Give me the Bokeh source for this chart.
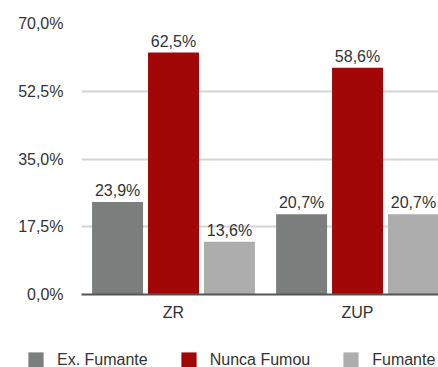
from bokeh.plotting import figure
from bokeh.models import ColumnDataSource, FixedTicker, Legend, LegendItem, Range1d
from bokeh.embed import file_html
from bokeh.resources import INLINE
from bokeh.core.properties import value

groups = ["ZR", "ZUP"]
series_names = ["Ex. Fumante", "Nunca Fumou", "Fumante"]
ex_fumante = [23.9, 20.7]
nunca_fumou = [62.5, 58.6]
fumante = [13.6, 20.7]
y_ticks = [0, 17.5, 35, 52.5, 70]
y_tick_labels = ["0,0%", "17,5%", "35,0%", "52,5%", "70,0%"]
colors = ["#7a7f7d", "#a10707", "#adadad"]

FONT = "Liberation Sans"
FS = "16px"
TXT = "#333333"

p = figure(width=438, height=340, output_backend="svg", toolbar_location=None,
           x_range=Range1d(0, 1.94), y_range=Range1d(0, 70),
           min_border_left=81, min_border_right=0, min_border_top=23, min_border_bottom=46)
p.outline_line_color = None
p.background_fill_color = "white"
p.border_fill_color = "white"

centers = [i + 0.5 for i in range(len(groups))]
offsets = [-0.304, 0.0, 0.304]
bar_w = 0.277

for vals, off, col in zip([ex_fumante, nunca_fumou, fumante], offsets, colors):
    src = ColumnDataSource(dict(
        x=[c + off for c in centers],
        top=vals,
        lab=[("%.1f%%" % v).replace(".", ",") for v in vals],
    ))
    p.vbar(x="x", top="top", bottom=0, width=bar_w, source=src,
           fill_color=col, line_color=None)
    p.text(x="x", y="top", text="lab", source=src, text_align="center",
           text_baseline="bottom", y_offset=-3, text_font=value(FONT),
           text_font_size=FS, text_color=TXT)

# axes
p.xaxis.ticker = FixedTicker(ticks=centers)
p.xaxis.major_label_overrides = {c: g for c, g in zip(centers, groups)}
p.xaxis.major_tick_line_color = None
p.xaxis.minor_tick_line_color = None
p.xaxis.major_tick_out = 0
p.xaxis.major_tick_in = 0
p.xaxis.axis_line_color = "#555555"
p.xaxis.axis_line_width = 2
p.xaxis.major_label_text_font = FONT
p.xaxis.major_label_text_font_size = FS
p.xaxis.major_label_text_color = TXT
p.xaxis.major_label_standoff = 9

p.yaxis.ticker = FixedTicker(ticks=y_ticks)
p.yaxis.major_label_overrides = {t: l for t, l in zip(y_ticks, y_tick_labels)}
p.yaxis.axis_line_color = None
p.yaxis.major_tick_line_color = None
p.yaxis.minor_tick_line_color = None
p.yaxis.major_tick_out = 0
p.yaxis.major_tick_in = 0
p.yaxis.major_label_text_font = FONT
p.yaxis.major_label_text_font_size = FS
p.yaxis.major_label_text_color = TXT
p.yaxis.major_label_standoff = 18

p.xgrid.grid_line_color = None
p.ygrid.ticker = FixedTicker(ticks=y_ticks)
p.ygrid.grid_line_color = "#d4d4d4"
p.ygrid.grid_line_width = 2

# legend strip: its own root below the chart
lg = figure(width=438, height=27, output_backend="svg", toolbar_location=None,
            x_range=Range1d(0, 1), y_range=Range1d(0, 1),
            x_axis_type=None, y_axis_type=None,
            min_border_left=0, min_border_right=0, min_border_top=0, min_border_bottom=0)
lg.outline_line_color = None
lg.xgrid.visible = False
lg.ygrid.visible = False
items = []
for n, col in zip(series_names, colors):
    # swatch-only renderer kept outside the visible range
    r = lg.vbar(x=[-5], top=[0], width=1, fill_color=col, line_color=None)
    items.append(LegendItem(label=n, renderers=[r]))
legend = Legend(items=items, orientation="horizontal", location=(26, -2),
                glyph_width=19, glyph_height=19, label_standoff=12, spacing=31,
                padding=0, margin=0, border_line_color=None, background_fill_alpha=0,
                label_text_font=FONT, label_text_font_size=FS, label_text_color=TXT,
                label_height=19)
lg.add_layout(legend, "center")

open("out.html", "w").write(file_html([p, lg], INLINE))
